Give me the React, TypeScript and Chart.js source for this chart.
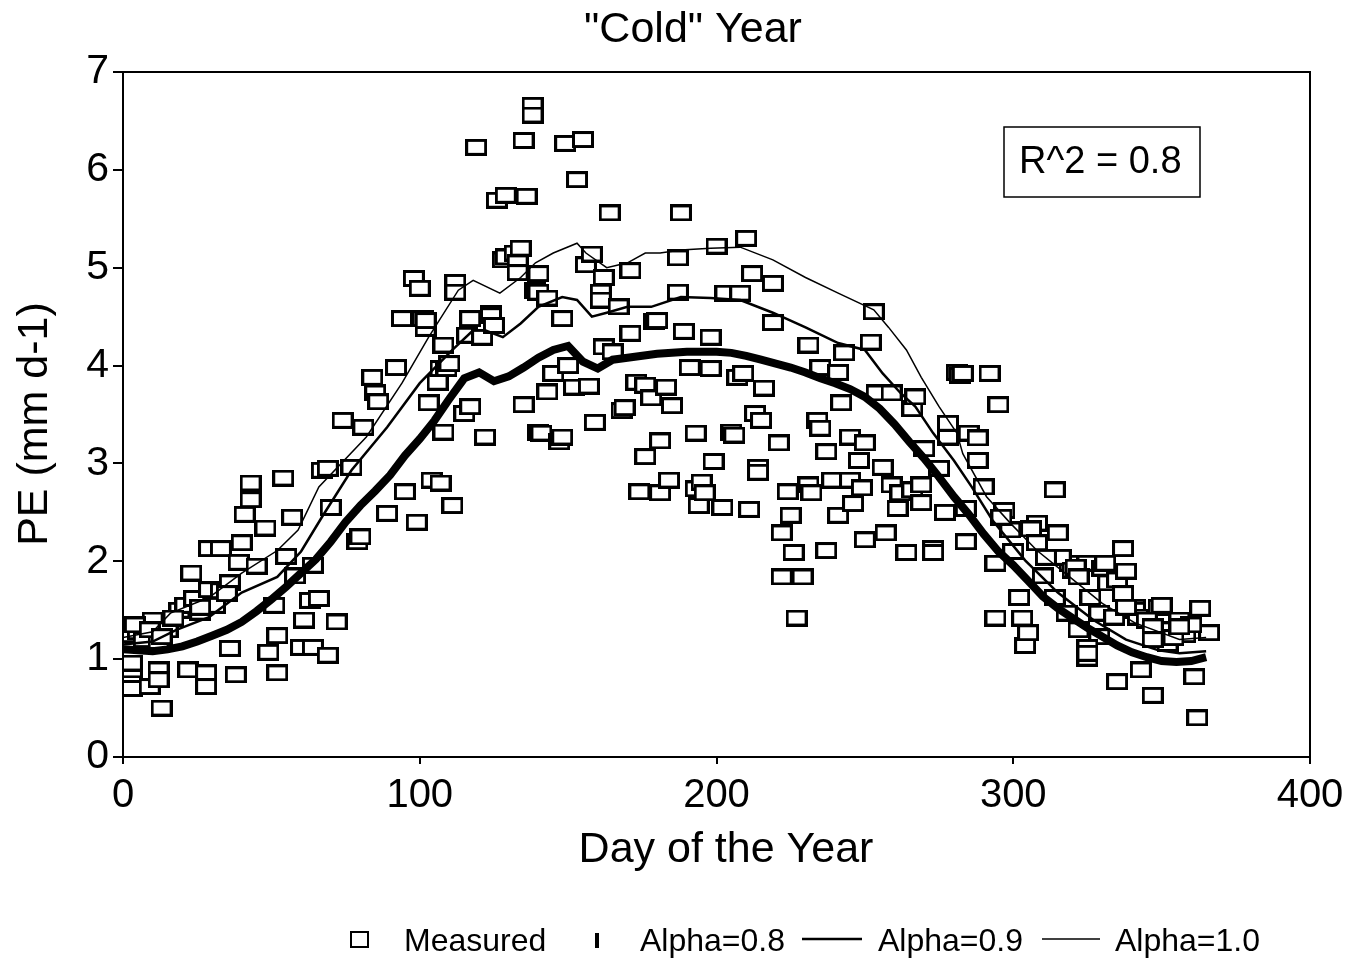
import { useEffect, useRef } from 'react';
import { Chart, registerables } from 'chart.js';

Chart.register(...registerables);

const FONT = '"Liberation Sans", Arial, Helvetica, sans-serif';

// Daily pan evaporation measurements: [day of year, PE in mm/d]
const measuredPoints: [number, number][] = [
  [1, 1.33], [3, 0.89], [3, 0.7], [9, 0.72], [13, 0.5], [10, 1.4], [11, 1.3], [2, 1.25], [5, 1.28], [7, 1.2],
  [12, 1.18], [15, 1.3], [19, 1.5], [21, 1.55], [24, 1.62], [12, 0.89], [22, 0.89], [28, 0.86], [28, 0.72], [23, 1.88],
  [29, 1.71], [29, 2.13], [33, 2.13], [36, 1.11], [38, 0.84], [39, 1.99], [40, 2.19], [41, 2.48], [43, 2.63], [43, 2.8],
  [48, 2.34], [49, 1.07], [51, 1.55], [52, 0.86], [52, 1.24], [54, 2.85], [57, 2.45], [60, 1.12], [61, 1.4], [63, 1.6],
  [64, 1.12], [66, 1.62], [67, 2.93], [69, 1.04], [72, 1.38], [69, 2.95], [70, 2.55], [64, 1.96], [45, 1.95], [33, 1.7],
  [26, 1.48], [17, 1.42], [31, 1.55], [36, 1.78], [55, 2.05], [58, 1.85], [4, 1.35], [9, 1.3], [13, 1.23], [26, 1.53],
  [35, 1.67], [3, 0.96], [12, 0.79],
  [74, 3.44], [77, 2.96], [79, 2.2], [80, 2.25], [81, 3.37], [84, 3.88], [85, 3.72], [86, 3.63], [89, 2.49], [92, 3.98],
  [94, 4.48], [95, 2.71], [98, 4.89], [99, 2.4], [100, 4.79], [101, 4.48], [102, 4.38], [102, 4.46], [103, 3.62], [104, 2.83],
  [106, 3.83], [107, 2.8], [107, 3.97], [108, 4.21], [108, 3.32], [109, 3.97], [110, 4.02], [111, 2.57], [112, 4.85], [112, 4.75],
  [115, 3.51], [116, 4.31], [117, 4.48], [117, 3.58], [119, 6.23], [121, 4.29], [122, 3.27], [124, 4.53], [124, 4.51], [125, 4.41],
  [126, 5.69], [128, 5.08], [129, 5.74], [129, 5.11], [132, 5.15], [133, 5.05], [133, 4.95], [134, 5.2], [135, 6.3], [135, 3.6],
  [136, 5.73], [138, 6.66], [138, 6.56], [139, 4.77], [140, 4.94], [140, 3.32], [140, 4.75], [141, 3.31],
  [143, 4.69], [143, 3.73], [145, 3.92], [147, 3.22], [148, 3.27], [148, 4.48], [149, 6.27], [150, 4.0], [152, 3.78], [153, 5.9],
  [155, 6.31], [156, 5.03], [157, 3.79], [158, 5.14], [159, 3.42], [161, 4.75], [161, 4.67], [162, 4.9], [162, 4.19], [164, 5.56],
  [165, 4.14], [167, 4.6], [168, 3.54], [169, 3.57], [171, 4.97], [171, 4.33], [173, 3.83], [174, 2.71], [176, 3.8], [176, 3.07],
  [178, 3.67], [179, 4.45], [180, 4.46], [181, 3.23], [181, 2.7], [183, 3.78], [184, 2.83], [185, 3.59], [187, 5.1], [187, 4.75],
  [188, 5.56], [189, 4.35], [191, 3.98], [193, 3.31], [193, 2.74], [194, 2.57], [195, 2.81], [196, 2.7], [198, 4.29], [198, 3.97],
  [199, 3.02], [200, 5.22], [202, 2.55], [203, 4.74], [205, 3.32], [206, 3.29], [207, 3.88], [208, 4.74], [209, 3.92], [210, 5.3],
  [211, 2.53], [212, 4.94], [213, 3.51], [214, 2.96], [214, 2.91], [215, 3.44],
  [216, 3.77], [219, 4.84], [219, 4.44], [221, 3.21], [222, 2.29], [222, 1.84], [224, 2.71], [225, 2.47], [226, 2.09], [227, 1.42],
  [229, 1.84], [231, 4.21], [231, 2.78], [232, 2.7], [234, 3.44], [235, 3.98], [235, 3.36], [237, 3.12], [237, 2.11], [239, 2.83],
  [241, 3.93], [241, 2.47], [242, 3.62], [243, 4.13], [245, 3.27], [245, 2.83], [246, 2.59], [248, 3.03], [249, 2.75], [250, 3.21],
  [250, 2.22], [252, 4.24], [253, 4.55], [254, 3.72], [256, 2.96], [257, 2.29], [259, 3.72], [259, 2.78], [261, 2.54], [262, 2.7],
  [264, 2.09], [266, 3.56], [266, 2.73], [267, 3.68], [269, 2.78], [269, 2.6], [273, 2.13], [273, 2.09], [277, 2.5], [278, 3.37],
  [278, 3.27], [281, 3.93], [282, 3.9], [283, 3.92], [284, 2.54], [284, 2.2], [285, 3.31], [288, 3.26], [288, 3.03], [290, 2.76],
  [292, 3.92], [294, 1.98], [294, 1.42], [295, 3.6], [297, 2.52], [270, 3.15], [275, 2.95], [278, 3.41],
  [302, 1.63], [303, 1.42], [304, 1.14], [305, 1.27], [308, 2.39], [306, 2.33], [308, 2.19], [299, 2.32], [296, 2.45], [314, 2.73],
  [315, 2.29], [319, 1.98], [316, 2.04], [320, 1.91], [325, 1.98], [330, 1.93], [332, 1.78], [335, 1.81], [337, 1.67], [337, 2.13],
  [338, 1.9], [341, 1.53], [341, 1.5], [343, 0.89], [335, 0.77], [347, 0.63], [349, 1.53], [350, 1.55], [325, 1.01], [329, 1.23],
  [325, 1.12], [322, 1.3], [318, 1.47], [314, 1.63], [342, 1.43], [345, 1.4], [350, 1.3], [352, 1.16], [356, 1.4], [361, 0.82],
  [362, 0.4], [363, 1.52], [366, 1.27], [358, 1.25], [354, 1.22], [360, 1.35], [310, 1.85], [300, 2.1], [321, 1.94], [331, 1.98],
  [311, 2.04], [326, 1.63], [329, 1.47], [334, 1.43], [347, 1.33], [356, 1.33], [347, 1.2], [338, 1.53], [325, 1.06], [322, 1.84],
];

// Modelled PE, alpha = 0.8
const alpha08Days = [
  0, 5, 10, 15, 20, 25, 30, 35, 40, 45, 50, 55, 60, 65, 70, 75, 80, 85, 90, 95, 100, 105, 110, 115, 120,
  125, 130, 135, 140, 145, 150, 155, 160, 165, 170, 175, 180, 185, 190, 195, 200, 205, 210, 215, 220, 225,
  230, 235, 240, 245, 250, 255, 260, 265, 270, 275, 280, 285, 290, 295, 300, 305, 310, 315, 320, 325, 330,
  335, 340, 345, 350, 355, 360, 365,
];
const alpha08PE = [
  1.1, 1.09, 1.08, 1.1, 1.13, 1.18, 1.24, 1.3, 1.38, 1.49, 1.61, 1.74, 1.88, 2.02, 2.2, 2.4, 2.57, 2.72, 2.88, 3.08,
  3.25, 3.44, 3.66, 3.87, 3.93, 3.84, 3.89, 3.98, 4.08, 4.16, 4.2, 4.04, 3.97, 4.06, 4.08, 4.1, 4.12, 4.13, 4.14, 4.14,
  4.14, 4.13, 4.1, 4.06, 4.02, 3.98, 3.93, 3.87, 3.82, 3.76, 3.68, 3.56, 3.4, 3.22, 3.05, 2.86, 2.66, 2.48, 2.28, 2.1,
  1.96, 1.8, 1.64, 1.52, 1.42, 1.32, 1.23, 1.14, 1.07, 1.02, 0.98, 0.97, 0.98, 1.02,
];

// Modelled PE, alpha = 0.9
const alpha09Days = [
  0, 10, 18, 29, 40, 52, 60, 67, 77, 89, 100, 111, 118, 122, 128, 134, 140, 148, 153, 158, 163, 170, 178, 188,
  198, 208, 219, 230, 241, 250, 256, 262, 267, 273, 280, 286, 293, 304, 315, 327, 338, 349, 356, 365,
];
const alpha09PE = [
  1.15, 1.18, 1.3, 1.43, 1.68, 1.84, 2.1, 2.45, 2.93, 3.37, 3.82, 4.16, 4.36, 4.36, 4.29, 4.43, 4.6, 4.7, 4.67, 4.5,
  4.54, 4.6, 4.6, 4.7, 4.69, 4.67, 4.54, 4.39, 4.23, 4.16, 3.92, 3.72, 3.58, 3.31, 3.03, 2.76, 2.42, 2.01, 1.68, 1.4,
  1.2, 1.09, 1.06, 1.08,
];

// Modelled PE, alpha = 1.0
const alpha10Days = [
  0, 10, 16, 29, 40, 52, 59, 66, 82, 94, 103, 113, 118, 127, 134, 139, 145, 153, 156, 163, 170, 176, 181, 188,
  198, 208, 219, 230, 241, 253, 258, 264, 269, 275, 281, 283, 291, 299, 308, 319, 330, 341, 356, 365,
];
const alpha10PE = [
  1.22, 1.28, 1.47, 1.63, 1.88, 2.11, 2.32, 2.76, 3.27, 3.82, 4.29, 4.77, 4.87, 4.74, 4.9, 5.05, 5.15, 5.25, 5.15, 5.0,
  5.05, 5.15, 5.15, 5.18, 5.2, 5.21, 5.08, 4.9, 4.74, 4.57, 4.39, 4.16, 3.88, 3.58, 3.31, 3.1, 2.66, 2.39, 2.11, 1.84,
  1.57, 1.37, 1.2, 1.22,
];

const xTickValues = [0, 100, 200, 300, 400];
const yTickValues = [0, 1, 2, 3, 4, 5, 6, 7];

const chartTitle = '"Cold" Year';
const xTitle = 'Day of the Year';
const yTitle = 'PE (mm d-1)';
const fitLabel = 'R^2 = 0.8';
const legendLabels = ['Measured', 'Alpha=0.8', 'Alpha=0.9', 'Alpha=1.0'];

const pairUp = (days: number[], pe: number[]) => days.map((d, i) => ({ x: d, y: pe[i] }));

// hollow rectangle marker with a white interior
function makeSquareMarker(): HTMLCanvasElement {
  const c = document.createElement('canvas');
  c.width = 22;
  c.height = 17;
  const g = c.getContext('2d')!;
  g.fillStyle = '#000';
  g.fillRect(0, 0, 22, 17);
  g.fillStyle = '#fff';
  g.fillRect(3, 3, 16, 11);
  return c;
}

const annotations = {
  id: 'annotations',
  afterDraw(chart: Chart) {
    const { ctx, chartArea } = chart;
    const { left, top, right, bottom } = chartArea;
    ctx.save();
    ctx.fillStyle = '#000';
    ctx.strokeStyle = '#000';

    // frame
    ctx.lineWidth = 2;
    ctx.strokeRect(left, top, right - left, bottom - top);

    // title
    ctx.font = `43px ${FONT}`;
    ctx.textAlign = 'center';
    ctx.textBaseline = 'alphabetic';
    ctx.fillText(chartTitle, 693, 42);

    // axis titles
    ctx.fillText(xTitle, 726, 862);
    ctx.save();
    ctx.translate(47, 424);
    ctx.rotate(-Math.PI / 2);
    ctx.fillText(yTitle, 0, 0);
    ctx.restore();

    // fit box
    ctx.lineWidth = 1.5;
    ctx.strokeRect(1004, 127, 196, 70);
    ctx.font = `38px ${FONT}`;
    ctx.textAlign = 'left';
    ctx.fillText(fitLabel, 1019, 173);

    // legend
    ctx.font = `32px ${FONT}`;
    ctx.lineWidth = 2;
    ctx.strokeRect(351, 932, 17, 15);
    ctx.fillText(legendLabels[0], 404, 951);
    ctx.fillRect(595, 933, 4, 15);
    ctx.fillText(legendLabels[1], 640, 951);
    ctx.lineWidth = 2.5;
    ctx.beginPath();
    ctx.moveTo(802, 939);
    ctx.lineTo(862, 939);
    ctx.stroke();
    ctx.fillText(legendLabels[2], 878, 951);
    ctx.lineWidth = 1.5;
    ctx.beginPath();
    ctx.moveTo(1042, 939);
    ctx.lineTo(1100, 939);
    ctx.stroke();
    ctx.fillText(legendLabels[3], 1115, 951);
    ctx.restore();
  },
};

export default function App() {
  const canvasRef = useRef<HTMLCanvasElement | null>(null);

  useEffect(() => {
    document.body.style.margin = '0';
    const canvas = canvasRef.current;
    if (!canvas) return;
    const marker = makeSquareMarker();

    const chart = new Chart(canvas, {
      type: 'scatter',
      data: {
        datasets: [
          {
            label: legendLabels[1],
            data: pairUp(alpha08Days, alpha08PE),
            showLine: true,
            borderColor: '#000',
            borderWidth: 8,
            pointRadius: 0,
            order: 1,
          },
          {
            label: legendLabels[2],
            data: pairUp(alpha09Days, alpha09PE),
            showLine: true,
            borderColor: '#000',
            borderWidth: 2.5,
            pointRadius: 0,
            order: 2,
          },
          {
            label: legendLabels[3],
            data: pairUp(alpha10Days, alpha10PE),
            showLine: true,
            borderColor: '#000',
            borderWidth: 1.5,
            pointRadius: 0,
            order: 3,
          },
          {
            label: legendLabels[0],
            data: measuredPoints.map(([d, v]) => ({ x: d, y: v })),
            pointStyle: marker,
            pointRadius: 10,
            showLine: false,
            order: 4,
          },
        ],
      },
      options: {
        responsive: false,
        animation: false,
        events: [],
        layout: { padding: { top: 72, right: 50, bottom: 0, left: 0 } },
        plugins: {
          legend: { display: false },
          title: { display: false },
          tooltip: { enabled: false },
        },
        scales: {
          x: {
            type: 'linear',
            min: 0,
            max: 400,
            afterBuildTicks: (s: any) => {
              s.ticks = xTickValues.map((v) => ({ value: v }));
            },
            afterFit: (s: any) => {
              s.height = 202;
            },
            ticks: {
              font: { family: FONT, size: 40 },
              color: '#000',
              padding: 8,
              maxRotation: 0,
              autoSkip: false,
            },
            grid: { drawOnChartArea: false, tickLength: 7, color: '#000', lineWidth: 2 },
            border: { display: true, color: '#000', width: 2 },
          },
          y: {
            type: 'linear',
            min: 0,
            max: 7,
            afterBuildTicks: (s: any) => {
              s.ticks = yTickValues.map((v) => ({ value: v }));
            },
            afterFit: (s: any) => {
              s.width = 123;
            },
            ticks: {
              font: { family: FONT, size: 41 },
              color: '#000',
              padding: 4,
            },
            grid: { drawOnChartArea: false, tickLength: 10, color: '#000', lineWidth: 2 },
            border: { display: true, color: '#000', width: 2 },
          },
        },
      },
      plugins: [annotations],
    });

    return () => chart.destroy();
  }, []);

  return <canvas ref={canvasRef} width={1360} height={959} style={{ display: 'block' }} />;
}
